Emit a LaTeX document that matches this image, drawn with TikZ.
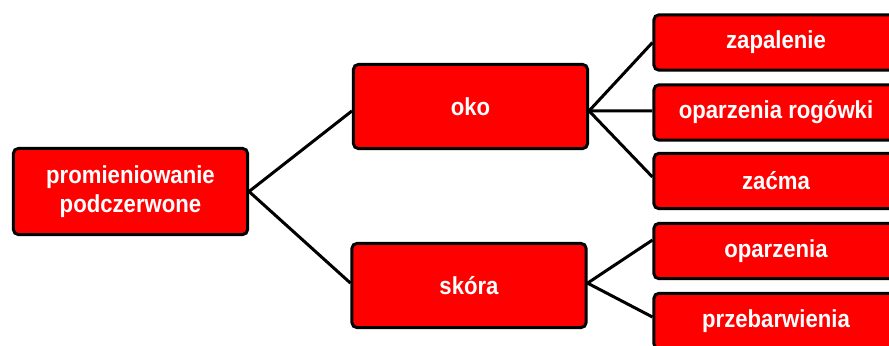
\documentclass[tikz,border=0pt]{standalone}
\usepackage{fontspec}
\setmainfont{Liberation Sans}[FakeStretch=0.9]
\begin{document}
\begin{tikzpicture}[x=0.025cm,y=-0.025cm,
  box/.style={draw=black,line width=0.075cm,fill=red,rounded corners=0.12cm,
    text=white,font=\fontsize{17.5}{20.5}\selectfont\bfseries,align=center,
    inner sep=0pt,minimum width=5.85cm},
  leaf/.style={box,minimum width=6.1cm,minimum height=1.38cm},
  link/.style={draw=black,line width=0.075cm}]

% objects at depth 50:
\useasboundingbox (0,0) rectangle (889,345);
\node[box,minimum height=2.15cm] (root) at (130.5,191.5) {promieniowanie\\podczerwone};
\node[box,minimum height=2.1cm] (oko) at (470.5,106.5) {oko};
\node[box,minimum height=2.1cm] (skora) at (469,285.5) {skóra};
\node[leaf] (zap) at (776,42.5) {zapalenie};
\node[leaf] (rog) at (776,112.5) {oparzenia rogówki};
\node[leaf] (zac) at (776,181) {zaćma};
\node[leaf] (opa) at (776,251) {oparzenia};
\node[leaf] (prz) at (776,321) {przebarwienia};

% objects at depth 60:
\draw[link] (root.east) -- ([yshift=-0.11cm]oko.west);
\draw[link] (root.east) -- ([yshift=0.06cm]skora.west);
\draw[link] ([yshift=-0.11cm]oko.east) -- (zap.west);
\draw[link] ([yshift=-0.11cm]oko.east) -- ([yshift=0.04cm]rog.west);
\draw[link] ([yshift=-0.11cm]oko.east) -- ([yshift=0.1cm]zac.west);
\draw[link] ([yshift=0.06cm]skora.east) -- ([yshift=0.275cm]opa.west);
\draw[link] ([yshift=0.06cm]skora.east) -- ([yshift=0.1cm]prz.west);

\end{tikzpicture}
\end{document}
